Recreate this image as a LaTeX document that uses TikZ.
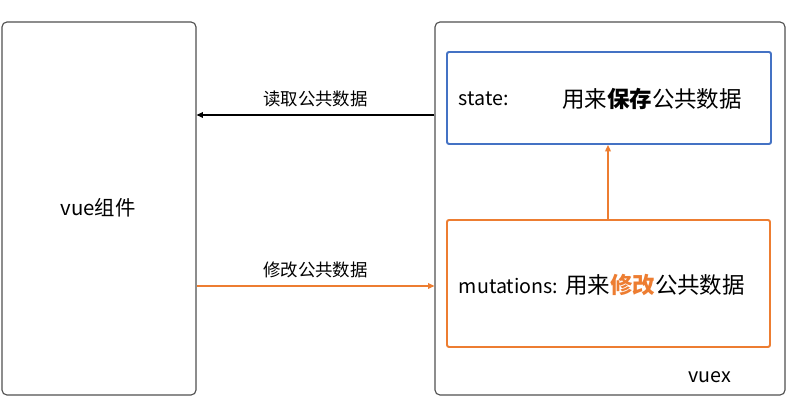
\documentclass[tikz,border=0pt]{standalone}
\usepackage{fontspec}
\setmainfont{Noto Sans CJK SC}
\usepackage{tikz}
\usetikzlibrary{arrows.meta, positioning}
\definecolor{boxgray}{RGB}{80, 80, 80}
\definecolor{stateblue}{RGB}{68, 114, 196}
\definecolor{mutorange}{RGB}{237, 125, 49}

\begin{document}
\begin{tikzpicture}[
        outer/.style={rectangle, rounded corners=3.5pt, draw=boxgray, line width=0.8pt, fill=white},
        inner/.style={rectangle, rounded corners=1.5pt, line width=1.4pt, fill=white},
        flow/.style={-{Triangle[length=4.5pt, width=4pt]}, line width=0.9pt},
        lbl/.style={font=\fontsize{12.4}{14}\selectfont}
    ]
        \useasboundingbox (0,0) rectangle (19.875,10.025);

        % Component and store
        \node[outer, minimum width=4.85cm, minimum height=9.325cm] (vue) at (2.475,4.8125) {};
        \node[font=\fontsize{14.5}{16}\selectfont] (vuelbl) at (2.45,4.82) {vue组件};
        \node[outer, minimum width=8.75cm, minimum height=9.325cm] (vuex) at (15.25,4.8125) {};
        \node[font=\fontsize{14}{16}\selectfont, anchor=east] (vuexlbl) at (18.4,0.6) {vuex};

        % State and mutations
        \node[inner, draw=stateblue, minimum width=8.1cm, minimum height=2.3cm] (state) at (15.225,7.575) {};
        \node[font=\fontsize{14}{16}\selectfont, anchor=west] (statekey) at (11.35,7.55) {state:};
        \node[font=\fontsize{16}{18}\selectfont] (statetxt) at (16.3,7.55) {用来\textbf{保存}公共数据};
        \node[inner, draw=mutorange, minimum width=8.075cm, minimum height=3.175cm] (mut) at (15.2125,2.9375) {};
        \node[font=\fontsize{16}{18}\selectfont, anchor=west] (muttxt) at (11.35,2.9)
            {{\fontsize{14}{16}\selectfont mutations:} 用来\textbf{\color{mutorange}修改}公共数据};

        % Arrows
        \draw[flow, draw=black] (vuex.west |- 0,7.15) -- (vue.east |- 0,7.15)
            node[lbl, midway, above=2pt] (readlbl) {读取公共数据};
        \draw[flow, draw=mutorange] (vue.east |- 0,2.875) -- (vuex.west |- 0,2.875)
            node[lbl, midway, above=2pt] (writelbl) {修改公共数据};
        \draw[flow, draw=mutorange] (mut.north -| 15.2,0) -- (state.south -| 15.2,0);
    \end{tikzpicture}
\end{document}
